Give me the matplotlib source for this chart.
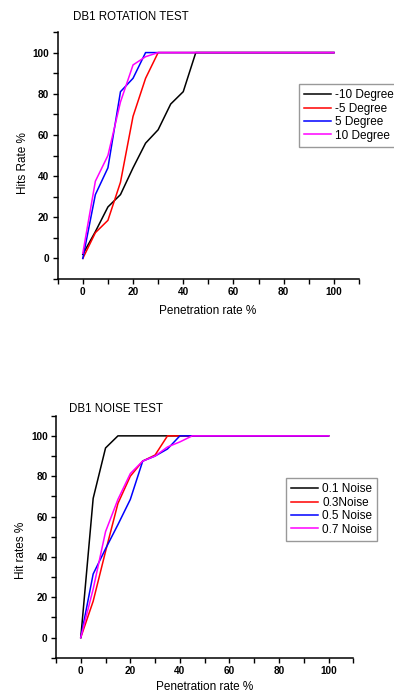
import matplotlib.pyplot as plt
from matplotlib.ticker import MultipleLocator

plt.rcParams['font.family'] = ['Liberation Sans', 'DejaVu Sans']

# penetration rate steps (%)
pen = [0, 5, 10, 15, 20, 25, 30, 35, 40, 45, 100]

# rotation test hit rates (%)
rot_labels = ['-10 Degree', '-5 Degree', '5 Degree', '10 Degree']
rot_m10 = [2, 13, 25, 31, 44, 56, 62.5, 75, 81, 100, 100]
rot_m5 = [0, 12.5, 18.5, 37, 69, 87.5, 100, 100, 100, 100, 100]
rot_p5 = [0, 31, 44, 81, 87.5, 100, 100, 100, 100, 100, 100]
rot_p10 = [2.5, 37.5, 50, 76, 94, 98, 100, 100, 100, 100, 100]

# noise test hit rates (%)
noise_labels = ['0.1 Noise', '0.3Noise', '0.5 Noise', '0.7 Noise']
noise_01 = [0, 69, 94, 100, 100, 100, 100, 100, 100, 100, 100]
noise_03 = [0, 18, 42.7, 66.5, 80, 87.5, 90.5, 100, 100, 100, 100]
noise_05 = [0, 31.5, 44, 56, 68.5, 87.5, 90, 93.5, 100, 100, 100]
noise_07 = [0, 24, 52.5, 68.5, 81.3, 87.5, 90, 94.5, 97, 100, 100]

colors = ['#000000', '#ff0000', '#0000ff', '#ff00ff']

W, H = 394, 692
fig = plt.figure(figsize=(W / 100, H / 100), dpi=100)


def style_axes(ax):
    ax.set_xlim(-10, 110)
    ax.set_ylim(-10, 110)
    for s in ('top', 'right'):
        ax.spines[s].set_visible(False)
    for s in ('left', 'bottom'):
        ax.spines[s].set_linewidth(1.1)
    ax.xaxis.set_minor_locator(MultipleLocator(10))
    ax.yaxis.set_minor_locator(MultipleLocator(10))
    ax.set_xticks([0, 20, 40, 60, 80, 100])
    ax.set_yticks([0, 20, 40, 60, 80, 100])
    ax.tick_params(which='both', direction='out', length=3.5, width=1.0, pad=2.5)
    ax.tick_params(labelsize=7.2)
    for lbl in ax.get_xticklabels() + ax.get_yticklabels():
        lbl.set_fontweight('bold')


def add_legend(ax, anchor):
    leg = ax.legend(loc='upper left', bbox_to_anchor=anchor,
                    bbox_transform=fig.transFigure, fontsize=8.5,
                    frameon=True, fancybox=False, handlelength=2.3,
                    handletextpad=0.3, labelspacing=0.12, borderpad=0.45,
                    borderaxespad=0)
    leg.get_frame().set_edgecolor('#808080')
    leg.get_frame().set_linewidth(1.0)


# rotation test
ax1 = fig.add_axes([57.7 / W, 1 - 279 / H, (359 - 57.7) / W, (279 - 32) / H])
for ys, lab, c in zip([rot_m10, rot_m5, rot_p5, rot_p10], rot_labels, colors):
    ax1.plot(pen, ys, color=c, lw=1.1, label=lab)
style_axes(ax1)
add_legend(ax1, (299 / W, 1 - 84 / H))
fig.text(73 / W, 1 - 17 / H, 'DB1 ROTATION TEST', fontsize=8.3, va='center', ha='left')
fig.text(208 / W, 1 - 311 / H, 'Penetration rate %', fontsize=8.5, va='center', ha='center')
fig.text(23 / W, 1 - 163 / H, 'Hits Rate %', fontsize=8.5, va='center', ha='center', rotation=90)

# noise test
ax2 = fig.add_axes([56 / W, 1 - 657.7 / H, (353.3 - 56) / W, (657.7 - 415.7) / H])
for ys, lab, c in zip([noise_01, noise_03, noise_05, noise_07], noise_labels, colors):
    ax2.plot(pen, ys, color=c, lw=1.1, label=lab)
style_axes(ax2)
add_legend(ax2, (286 / W, 1 - 478 / H))
fig.text(69 / W, 1 - 409 / H, 'DB1 NOISE TEST', fontsize=8.3, va='center', ha='left')
fig.text(205 / W, 1 - 687 / H, 'Penetration rate %', fontsize=8.5, va='center', ha='center')
fig.text(21 / W, 1 - 550 / H, 'Hit rates %', fontsize=8.5, va='center', ha='center', rotation=90)

fig.savefig('out.png', dpi=100)
